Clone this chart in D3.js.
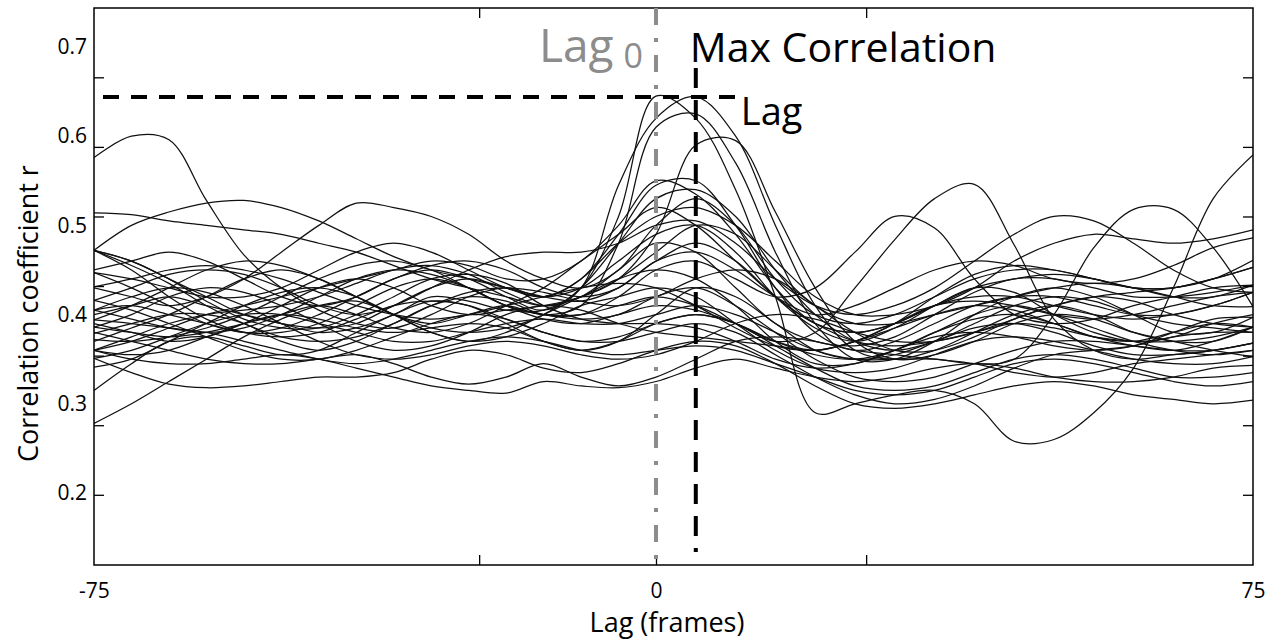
<!DOCTYPE html>
<html>
<head>
<meta charset="utf-8">
<script src="https://cdn.jsdelivr.net/npm/d3@7"></script>
<style>
  body { margin: 0; background: #fff; }
  text { font-family: "Open Sans", sans-serif; }
</style>
</head>
<body>
<div id="chart"></div>
<script>
// lag in frames, one sample every 5 frames
const lags = [-75,-70,-65,-60,-55, -50,-45,-40,-35,-30, -25,-20,-15,-10,-5,
              0,5,10,15,20, 25,30,35,40,45, 50,55,60,65,70, 75];

// correlation coefficient r per pair
const s01 = [.576,.600,.596,.528,.467, .430,.405,.390,.385,.400, .420,.430,.420,.430,.460, .490,.500,.470,.420,.385, .370,.385,.410,.430,.425, .400,.380,.370,.375,.390, .400];
const s02 = [.278,.300,.325,.350,.375, .395,.410,.415,.400,.380, .370,.380,.400,.420,.440, .450,.440,.410,.370,.345, .345,.360,.380,.395,.400, .390,.375,.370,.380,.390, .386];
const s03 = [.315,.345,.370,.375,.365, .355,.360,.380,.400,.415, .410,.390,.370,.360,.370, .400,.430,.420,.390,.360, .350,.355,.370,.385,.390, .380,.365,.355,.355,.360, .368];
const s04 = [.514,.512,.505,.500,.495, .490,.480,.470,.455,.440, .430,.420,.410,.420,.440, .470,.500,.490,.450,.410, .390,.390,.400,.410,.420, .430,.435,.430,.420,.410, .409];
const s05 = [.472,.500,.515,.525,.528, .520,.505,.485,.465,.450, .440,.430,.420,.415,.430, .460,.480,.460,.420,.390, .380,.390,.410,.420,.420, .410,.400,.395,.400,.410, .425];
const s06 = [.430,.420,.410,.420,.440, .470,.500,.525,.520,.510, .490,.460,.440,.430,.450, .500,.530,.500,.440,.400, .390,.400,.420,.440,.450, .450,.440,.430,.420,.420, .433];
const s07 = [.400,.410,.420,.410,.400, .390,.380,.385,.400,.420, .415,.405,.405,.430,.510, .645,.620,.540,.420,.290, .300,.310,.315,.300,.258, .260,.290,.340,.430,.530, .579];
const s08 = [.450,.460,.470,.460,.440, .420,.410,.420,.440,.450, .440,.420,.405,.430,.545, .620,.644,.600,.500,.410, .360,.350,.360,.380,.400, .410,.400,.380,.370,.370, .386];
const s09 = [.370,.385,.400,.420,.440, .450,.440,.420,.400,.390, .400,.410,.400,.410,.480, .610,.625,.570,.470,.390, .350,.350,.370,.400,.420, .430,.420,.400,.380,.380, .397];
const s10 = [.390,.380,.370,.375,.390, .410,.430,.440,.430,.410, .400,.405,.410,.420,.440, .490,.590,.595,.515,.430, .370,.350,.355,.370,.390, .400,.395,.380,.370,.360, .353];
const s11 = [.472,.460,.440,.420,.400, .390,.385,.390,.410,.430, .440,.430,.420,.440,.490, .545,.550,.500,.430,.380, .360,.370,.390,.410,.420, .420,.410,.400,.400,.410, .425];
const s12 = [.394,.410,.430,.450,.460, .455,.440,.420,.400,.385, .380,.385,.400,.430,.480, .530,.540,.510,.450,.400, .370,.360,.370,.390,.410, .420,.415,.400,.390,.385, .380];
const s13 = [.360,.370,.385,.400,.410, .420,.430,.440,.450,.460, .455,.440,.440,.460,.500, .550,.535,.490,.430,.390, .380,.390,.410,.430,.440, .445,.440,.430,.430,.440, .453];
const s14 = [.447,.440,.430,.420,.420, .430,.450,.470,.480,.470, .450,.430,.420,.440,.480, .510,.520,.500,.460,.420, .400,.400,.410,.430,.460, .480,.490,.485,.480,.485, .495];
const s15 = [.386,.380,.375,.380,.390, .400,.410,.400,.385,.380, .390,.410,.430,.460,.490, .520,.500,.460,.420,.390, .370,.365,.370,.380,.390, .385,.375,.370,.370,.375, .386];
const s16 = [.416,.430,.445,.450,.445, .430,.410,.400,.410,.430, .450,.465,.470,.470,.480, .500,.505,.480,.440,.410, .400,.410,.430,.460,.490, .510,.505,.480,.450,.430, .425];
const s17 = [.405,.410,.400,.390,.380, .380,.390,.410,.430,.440, .430,.410,.400,.400,.410, .420,.410,.390,.370,.380, .430,.484,.530,.546,.478, .395,.360,.350,.355,.360, .368];
const s18 = [.379,.390,.400,.400,.390, .370,.360,.370,.390,.410, .420,.415,.400,.400,.420, .450,.460,.440,.420,.430, .470,.510,.497,.440,.400, .390,.395,.410,.420,.430, .433];
const s19 = [.351,.360,.375,.390,.400, .400,.390,.380,.370,.370, .380,.390,.395,.390,.390, .400,.410,.400,.380,.360, .350,.350,.350,.345,.350, .400,.475,.518,.518,.475, .409];
const s20 = [.360,.355,.360,.375,.390, .400,.395,.385,.380,.385, .390,.385,.370,.360,.370, .390,.400,.390,.370,.355, .350,.360,.380,.400,.410, .400,.385,.370,.360,.355, .360];
const s21 = [.341,.350,.370,.390,.410, .425,.430,.420,.400,.380, .370,.375,.390,.410,.420, .430,.420,.390,.360,.340, .335,.340,.355,.370,.375, .370,.360,.350,.345,.345, .353];
const s22 = [.405,.395,.385,.380,.385, .400,.420,.440,.450,.445, .430,.410,.395,.390,.400, .410,.405,.390,.370,.360, .370,.390,.420,.445,.455, .450,.440,.430,.430,.440, .461];
const s23 = [.372,.370,.375,.385,.400, .420,.440,.455,.460,.450, .430,.410,.400,.395,.400, .420,.430,.410,.380,.350, .330,.325,.330,.345,.360, .370,.370,.365,.360,.360, .368];
const s24 = [.431,.440,.450,.455,.450, .440,.425,.410,.400,.395, .400,.410,.420,.430,.435, .430,.410,.385,.365,.360, .370,.390,.410,.415,.410, .400,.395,.400,.410,.420, .425];
const s25 = [.472,.455,.435,.410,.390, .375,.370,.375,.390,.410, .425,.430,.425,.415,.410, .420,.440,.450,.440,.410, .380,.360,.360,.375,.395, .410,.420,.415,.400,.390, .386];
const s26 = [.472,.460,.440,.415,.395, .385,.385,.400,.420,.440, .445,.435,.410,.395,.390, .390,.385,.370,.350,.340, .345,.360,.375,.380,.375, .365,.360,.365,.380,.395, .397];
const s27 = [.472,.450,.420,.395,.380, .375,.380,.395,.410,.415, .410,.395,.380,.370,.375, .390,.400,.390,.365,.340, .320,.315,.320,.335,.350, .355,.350,.340,.330,.330, .335];
const s28 = [.386,.400,.420,.430,.425, .410,.390,.370,.360,.365, .380,.400,.410,.405,.390, .380,.375,.370,.365,.360, .370,.385,.400,.410,.405, .390,.375,.365,.360,.370, .386];
const s29 = [.351,.335,.322,.318,.320, .325,.330,.330,.335,.350, .360,.355,.340,.335,.345, .360,.370,.365,.345,.320, .300,.295,.300,.310,.320, .325,.320,.310,.305,.300, .304];
const s30 = [.360,.350,.345,.345,.350, .355,.350,.340,.330,.320, .315,.312,.325,.320,.318, .325,.340,.350,.340,.330, .325,.330,.340,.345,.340, .330,.325,.325,.330,.340, .343];
const s31 = [.380,.370,.360,.350,.345, .345,.350,.355,.345,.330, .322,.330,.345,.330,.320, .330,.350,.370,.375,.370, .360,.355,.350,.345,.335, .330,.335,.345,.350,.355, .360];
const s32 = [.394,.390,.385,.380,.370, .360,.350,.345,.350,.360, .370,.375,.370,.360,.355, .360,.365,.360,.345,.330, .315,.310,.315,.330,.345, .350,.345,.335,.325,.320, .325];
const s33 = [.405,.420,.430,.425,.410, .390,.370,.355,.350,.355, .365,.370,.365,.355,.350, .355,.370,.390,.400,.395, .380,.370,.370,.380,.395, .410,.420,.425,.430,.440, .453];
const s34 = [.416,.405,.390,.375,.360, .350,.350,.360,.375,.390, .400,.395,.380,.370,.370, .380,.390,.380,.355,.330, .310,.300,.305,.320,.340, .355,.360,.365,.375,.380, .380];
const s35 = [.447,.430,.410,.390,.380, .385,.400,.420,.440,.455, .460,.450,.430,.420,.430, .460,.470,.450,.420,.400, .410,.430,.450,.460,.455, .440,.435,.440,.455,.475, .486];
const s36 = [.360,.375,.390,.400,.405, .410,.420,.435,.450,.455, .445,.425,.410,.420,.450, .480,.470,.430,.390,.370, .365,.375,.400,.425,.440, .440,.430,.420,.420,.425, .433];

const series = [s01,s02,s03,s04,s05,s06,s07,s08,s09,s10,s11,s12,s13,s14,s15,s16,s17,s18,
                s19,s20,s21,s22,s23,s24,s25,s26,s27,s28,s29,s30,s31,s32,s33,s34,s35,s36];

const xLabels = [-75, 0, 75];
const yLabels = [0.2, 0.3, 0.4, 0.5, 0.6, 0.7];
// unlabelled tick marks as they sit on the frame
const xTickMarks = [-23.6, 0, 26.4];
const yTickMarks = [0.666, 0.588, 0.510, 0.432, 0.354, 0.276, 0.198];

// lag of the maximum correlation
const maxLag = 5, maxR = 0.644;

const margin = {top: 8, right: 12, bottom: 76, left: 94},
      width = 1265 - margin.left - margin.right,
      height = 641 - margin.top - margin.bottom;

const svg = d3.select("#chart")
            .append("svg")
            .attr("width", width + margin.left + margin.right)
            .attr("height", height + margin.top + margin.bottom);

const chart = svg.append("g")
            .attr("transform", `translate(${margin.left},${margin.top})`);

const x = d3.scaleLinear()
            .domain([-75, 0, 75])
            .range([0, 562, width]);

const y = d3.scaleLinear()
            .domain([0.1193, 0.7437])
            .range([height, 0]);

chart.append("clipPath").attr("id", "plot-clip")
   .append("rect").attr("width", width).attr("height", height);

const line = d3.line()
            .x((d, i) => x(lags[i]))
            .y(d => y(d))
            .curve(d3.curveCatmullRom.alpha(0.5));

chart.append("g")
   .attr("clip-path", "url(#plot-clip)")
   .selectAll("path")
   .data(series)
   .enter()
   .append("path")
   .attr("d", line)
   .attr("fill", "none")
   .attr("stroke", "#111")
   .attr("stroke-width", 1.25);

// tick marks pointing inwards on all four sides
function marks(g) {
   g.select(".domain").remove();
   g.selectAll("line").attr("stroke", "#000").attr("stroke-width", 1.3);
}
chart.append("g").call(d3.axisRight(y).tickValues(yTickMarks).tickSize(10).tickFormat("")).call(marks);
chart.append("g").attr("transform", `translate(${width},0)`)
   .call(d3.axisLeft(y).tickValues(yTickMarks).tickSize(10).tickFormat("")).call(marks);
chart.append("g").attr("transform", `translate(0,${height})`)
   .call(d3.axisTop(x).tickValues(xTickMarks).tickSize(10).tickFormat("")).call(marks);
chart.append("g")
   .call(d3.axisBottom(x).tickValues(xTickMarks).tickSize(10).tickFormat("")).call(marks);

// tick labels
const yAxis = chart.append("g")
   .call(d3.axisLeft(y).tickValues(yLabels).tickSize(0).tickPadding(7).tickFormat(d => d.toFixed(1)));
yAxis.select(".domain").remove();
yAxis.selectAll("text").attr("font-size", 21).attr("font-family", "'Open Sans', sans-serif").attr("fill", "#000");

const xAxis = chart.append("g").attr("transform", `translate(0,${height})`)
   .call(d3.axisBottom(x).tickValues(xLabels).tickSize(0).tickPadding(18).tickFormat(d => String(d)));
xAxis.select(".domain").remove();
xAxis.selectAll("text").attr("font-size", 21).attr("font-family", "'Open Sans', sans-serif").attr("fill", "#000");

// frame
chart.append("rect")
   .attr("width", width)
   .attr("height", height)
   .attr("fill", "none")
   .attr("stroke", "#000")
   .attr("stroke-width", 1.5);

// lag 0 marker
chart.append("line")
   .attr("x1", x(0)).attr("x2", x(0))
   .attr("y1", 0).attr("y2", height)
   .attr("stroke", "#8c8c8c")
   .attr("stroke-width", 4)
   .attr("stroke-dasharray", "17,13,4,13");

// max correlation markers
chart.append("line")
   .attr("x1", 9).attr("x2", x(maxLag) + 43)
   .attr("y1", y(maxR)).attr("y2", y(maxR))
   .attr("stroke", "#000")
   .attr("stroke-width", 4)
   .attr("stroke-dasharray", "16,12");

chart.append("line")
   .attr("x1", x(maxLag)).attr("x2", x(maxLag))
   .attr("y1", y(maxR) - 29).attr("y2", height - 13)
   .attr("stroke", "#000")
   .attr("stroke-width", 4)
   .attr("stroke-dasharray", "20,12");

// annotations
const lag0 = chart.append("text")
   .attr("x", x(0) - 117)
   .attr("y", y(maxR) - 35)
   .attr("font-size", 46)
   .attr("fill", "#8c8c8c");
lag0.append("tspan").text("Lag");
lag0.append("tspan").attr("dx", 10).attr("dy", 6).attr("font-size", 34).text("0");

chart.append("text")
   .attr("x", x(maxLag) - 6)
   .attr("y", y(maxR) - 35)
   .attr("font-size", 41)
   .attr("fill", "#000")
   .text("Max Correlation");

chart.append("text")
   .attr("x", x(maxLag) + 45)
   .attr("y", y(maxR) + 28)
   .attr("font-size", 38)
   .attr("fill", "#000")
   .text("Lag");

// axis titles
chart.append("text")
   .attr("x", x(0) + 11)
   .attr("y", height + 67)
   .attr("text-anchor", "middle")
   .attr("font-size", 27)
   .text("Lag (frames)");

chart.append("text")
   .attr("transform", `translate(${-margin.left + 38},${y(0.4) - 1}) rotate(-90)`)
   .attr("text-anchor", "middle")
   .attr("font-size", 27)
   .text("Correlation coefficient r");
</script>
</body>
</html>
